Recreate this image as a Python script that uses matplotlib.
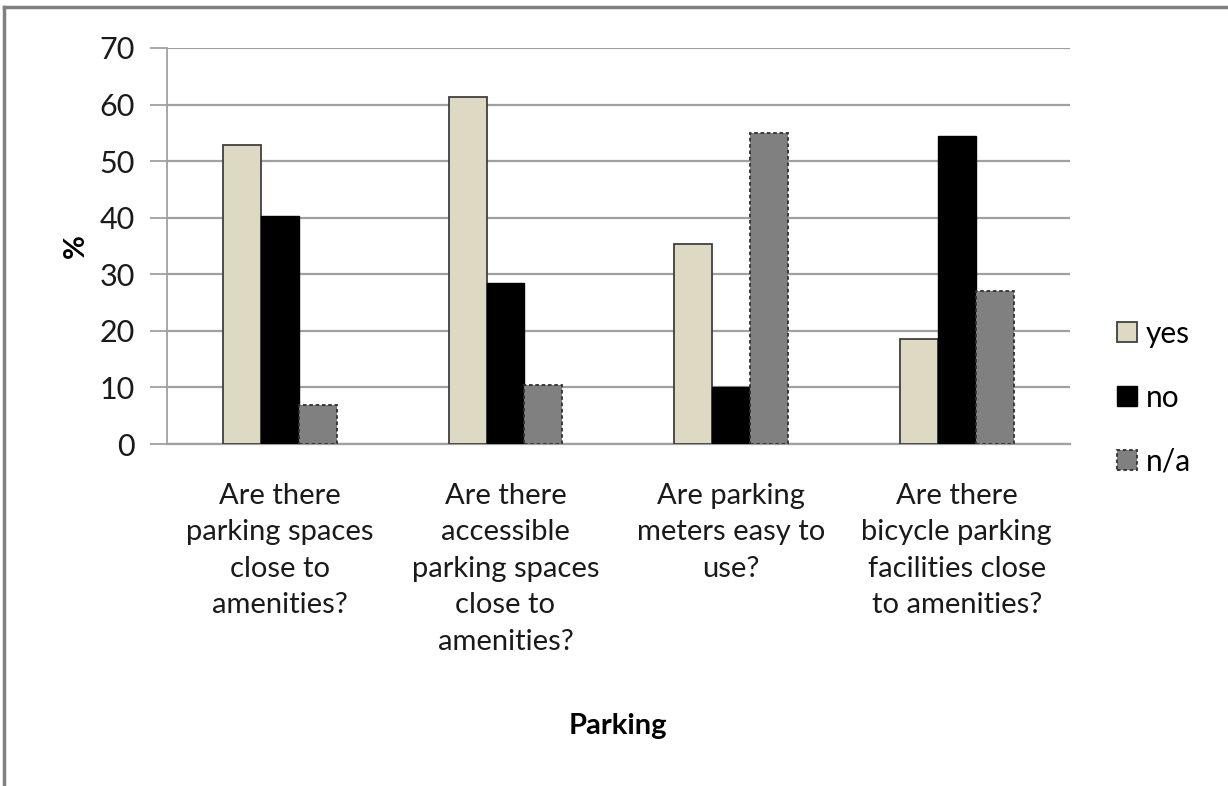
import matplotlib.pyplot as plt
import numpy as np
from matplotlib.lines import Line2D

plt.rcParams["font.family"] = ["Lato", "DejaVu Sans"]

categories = [
    "Are there\nparking spaces\nclose to\namenities?",
    "Are there\naccessible\nparking spaces\nclose to\namenities?",
    "Are parking\nmeters easy to\nuse?",
    "Are there\nbicycle parking\nfacilities close\nto amenities?",
]
yes = [52.8, 61.3, 35.4, 18.5]
no = [40.3, 28.4, 10.0, 54.4]
na = [6.9, 10.5, 55.0, 27.0]
series_names = ["yes", "no", "n/a"]
y_ticks = [0, 10, 20, 30, 40, 50, 60, 70]

fig = plt.figure(figsize=(12.28, 7.86), dpi=100)
ax = fig.add_axes([0.136, 0.435, 0.735, 0.504])

x = np.arange(len(categories))
width = 0.168
grid_color = "#a0a0a0"

ax.bar(x - width, yes, width, color="#ddd9c3", edgecolor="#404040",
       linewidth=1.3, label=series_names[0], zorder=3)
ax.bar(x, no, width, color="#000000", edgecolor="#000000",
       linewidth=1.0, label=series_names[1], zorder=3)
ax.bar(x + width, na, width, color="#808080", edgecolor="#303030",
       linewidth=1.3, linestyle=(0, (2, 1.5)), label=series_names[2], zorder=3)

ax.set_xlim(-0.5, len(categories) - 0.5)
ax.set_ylim(0, 70)
ax.set_yticks(y_ticks)
ax.yaxis.grid(True, color=grid_color, linewidth=1.6, zorder=0)
ax.set_axisbelow(True)

ax.set_xticks(x)
ax.set_xticklabels(categories, fontsize=21, color="#1a1a1a", linespacing=1.5)
ax.tick_params(axis="x", length=0, pad=28)
ax.tick_params(axis="y", labelsize=22, labelcolor="#1a1a1a", length=12,
               width=1.3, color=grid_color, pad=11)

for side in ("top", "right"):
    ax.spines[side].set_visible(False)
ax.spines["left"].set_color(grid_color)
ax.spines["left"].set_linewidth(1.3)
ax.spines["bottom"].set_color(grid_color)
ax.spines["bottom"].set_linewidth(1.6)

ax.set_ylabel("%", fontsize=21, fontweight="bold", labelpad=8)
ax.set_xlabel("Parking", fontsize=21, fontweight="bold", labelpad=42)

fig.legend(loc="center left", bbox_to_anchor=(0.910, 0.494), frameon=False,
           fontsize=21.5, handlelength=0.65, handleheight=0.65, handletextpad=0.3,
           labelspacing=1.2, borderpad=0, borderaxespad=0)

# outer chart frame along top and left edges
fig.add_artist(Line2D([0.0035, 1.0], [0.9915, 0.9915], color="#808080",
                      linewidth=2.5, transform=fig.transFigure))
fig.add_artist(Line2D([0.0035, 0.0035], [0.0, 0.9915], color="#808080",
                      linewidth=2.5, transform=fig.transFigure))

fig.savefig("out.png", dpi=100)
